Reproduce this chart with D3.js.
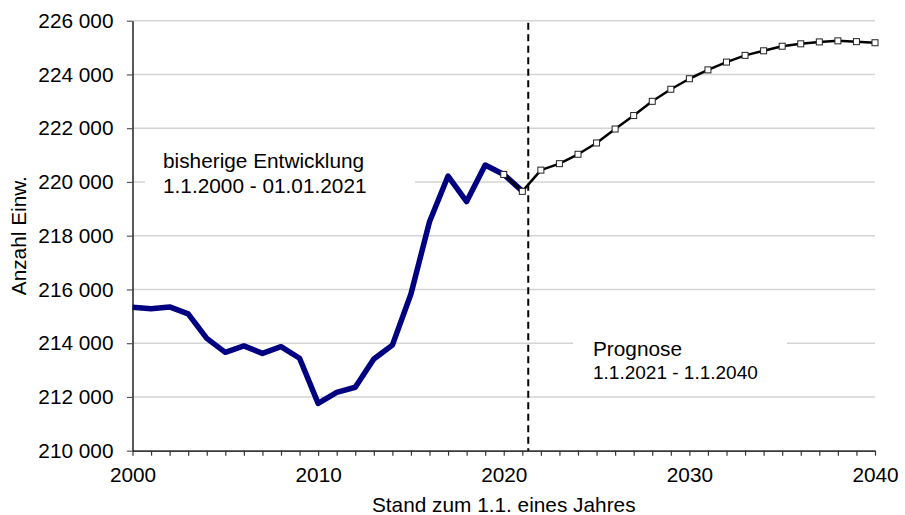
<!DOCTYPE html>
<html>
<head>
<meta charset="utf-8">
<script src="https://cdn.jsdelivr.net/npm/d3@7"></script>
<style>
  body { margin: 0; background: #fff; }
  svg text { font-family: "Liberation Sans", Arial, sans-serif; fill: #000; }
</style>
</head>
<body>
<svg id="chart" width="905" height="515"></svg>
<script>
// Einwohner bisher (1.1.2000 - 1.1.2021)
const jahreIst = d3.range(2000, 2022);
const werteIst = [215340, 215280, 215350, 215090, 214180, 213660, 213900, 213620, 213870, 213440,
                  211760, 212170, 212360, 213410, 213930, 215830, 218520, 220220, 219270, 220630,
                  220280, 219660];

// Prognose (2020 - 2040)
const jahrePrognose = d3.range(2020, 2041);
const wertePrognose = [220280, 219650, 220440, 220680, 221030, 221450, 221970, 222470, 223000, 223450,
                       223840, 224170, 224460, 224710, 224880, 225050, 225140, 225210, 225250, 225220,
                       225180];

const prognoseGrenze = 2021.32;   // gestrichelte Linie
const yTicks = d3.range(210000, 226001, 2000);
const xTicks = d3.range(2000, 2041);

const svg = d3.select('#chart');
const pLeft = 132.5, pRight = 875, pTop = 20.7, pBottom = 450.7;
const fs = '20.8px';

const x = d3.scaleLinear().domain([2000, 2040]).range([pLeft, pRight]);
const y = d3.scaleLinear().domain([210000, 226000]).range([pBottom, pTop]);

const fmt = d3.formatLocale({decimal: ',', thousands: ' ', grouping: [3], currency: ['', '']}).format(',d');

// Gitterlinien
svg.append('g').attr('id', 'grid')
    .selectAll('line')
    .data(yTicks).enter()
    .append('line')
    .attr('x1', pLeft).attr('x2', pRight)
    .attr('y1', d => y(d)).attr('y2', d => y(d))
    .attr('stroke', '#d4d4d4')
    .attr('stroke-width', 1.5);

// Textfelder (weiss hinterlegt)
const anno1 = svg.append('g');
anno1.append('rect').attr('x', 145).attr('y', 143).attr('width', 270).attr('height', 58).attr('fill', '#fff');
anno1.append('text').attr('x', 163).attr('y', 168.3).style('font-size', fs).text('bisherige Entwicklung');
anno1.append('text').attr('x', 163).attr('y', 193.3).style('font-size', fs).text('1.1.2000 - 01.01.2021');

const anno2 = svg.append('g');
anno2.append('rect').attr('x', 573).attr('y', 332).attr('width', 214).attr('height', 60).attr('fill', '#fff');
anno2.append('text').attr('x', 593).attr('y', 355.7).style('font-size', fs).text('Prognose');
anno2.append('text').attr('x', 593).attr('y', 379.3).style('font-size', '19px').text('1.1.2021 - 1.1.2040');

// Achsen
const xAxis = d3.axisBottom(x)
    .tickValues(xTicks)
    .tickSize(5)
    .tickSizeOuter(0)
    .tickPadding(11.3)
    .tickFormat(d => d % 10 === 0 ? d : '');

svg.append('g')
    .attr('transform', 'translate(0,' + pBottom + ')')
    .call(xAxis)
    .call(g => g.select('.domain').attr('stroke', '#000').attr('stroke-width', 1.3))
    .call(g => g.selectAll('.tick line').attr('stroke', '#333').attr('stroke-width', 1.2))
    .selectAll('text')
    .style('font-size', fs)
    .style('font-family', '"Liberation Sans", Arial, sans-serif');

const yAxis = d3.axisLeft(y)
    .tickValues(yTicks)
    .tickSize(5.6)
    .tickSizeOuter(0)
    .tickPadding(13.4)
    .tickFormat(fmt);

svg.append('g')
    .attr('transform', 'translate(' + pLeft + ',0)')
    .call(yAxis)
    .call(g => g.select('.domain').attr('stroke', '#000').attr('stroke-width', 1.3))
    .call(g => g.selectAll('.tick line').attr('stroke', '#555').attr('stroke-width', 1.2))
    .selectAll('text')
    .style('font-size', fs)
    .style('font-family', '"Liberation Sans", Arial, sans-serif');

// Achsentitel
svg.append('text')
    .attr('x', (pLeft + pRight) / 2)
    .attr('y', 511.5)
    .style('font-size', fs)
    .style('text-anchor', 'middle')
    .text('Stand zum 1.1. eines Jahres');

svg.append('text')
    .attr('transform', 'translate(26,' + (pTop + pBottom) / 2 + ') rotate(-90)')
    .style('font-size', fs)
    .style('text-anchor', 'middle')
    .text('Anzahl Einw.');

// Linie bisher
const lineIst = d3.line().x((d, i) => x(jahreIst[i])).y(d => y(d));
svg.append('path')
    .datum(werteIst)
    .attr('d', lineIst)
    .attr('fill', 'none')
    .attr('stroke', '#000080')
    .attr('stroke-width', 5.5)
    .attr('stroke-linejoin', 'round');

// Trennlinie
svg.append('line')
    .attr('x1', x(prognoseGrenze)).attr('x2', x(prognoseGrenze))
    .attr('y1', pTop + 2).attr('y2', pBottom)
    .attr('stroke', '#000')
    .attr('stroke-width', 2)
    .attr('stroke-dasharray', '7,4.5');

// Prognose
const linePrognose = d3.line().x((d, i) => x(jahrePrognose[i])).y(d => y(d));
svg.append('path')
    .datum(wertePrognose)
    .attr('d', linePrognose)
    .attr('fill', 'none')
    .attr('stroke', '#000')
    .attr('stroke-width', 2.5)
    .attr('stroke-linejoin', 'round');

svg.append('g').attr('id', 'marker')
    .selectAll('rect')
    .data(wertePrognose).enter()
    .append('rect')
    .attr('x', (d, i) => x(jahrePrognose[i]) - 3)
    .attr('y', d => y(d) - 3)
    .attr('width', 6)
    .attr('height', 6)
    .attr('fill', '#fff')
    .attr('stroke', '#222')
    .attr('stroke-width', 1);
</script>
</body>
</html>
